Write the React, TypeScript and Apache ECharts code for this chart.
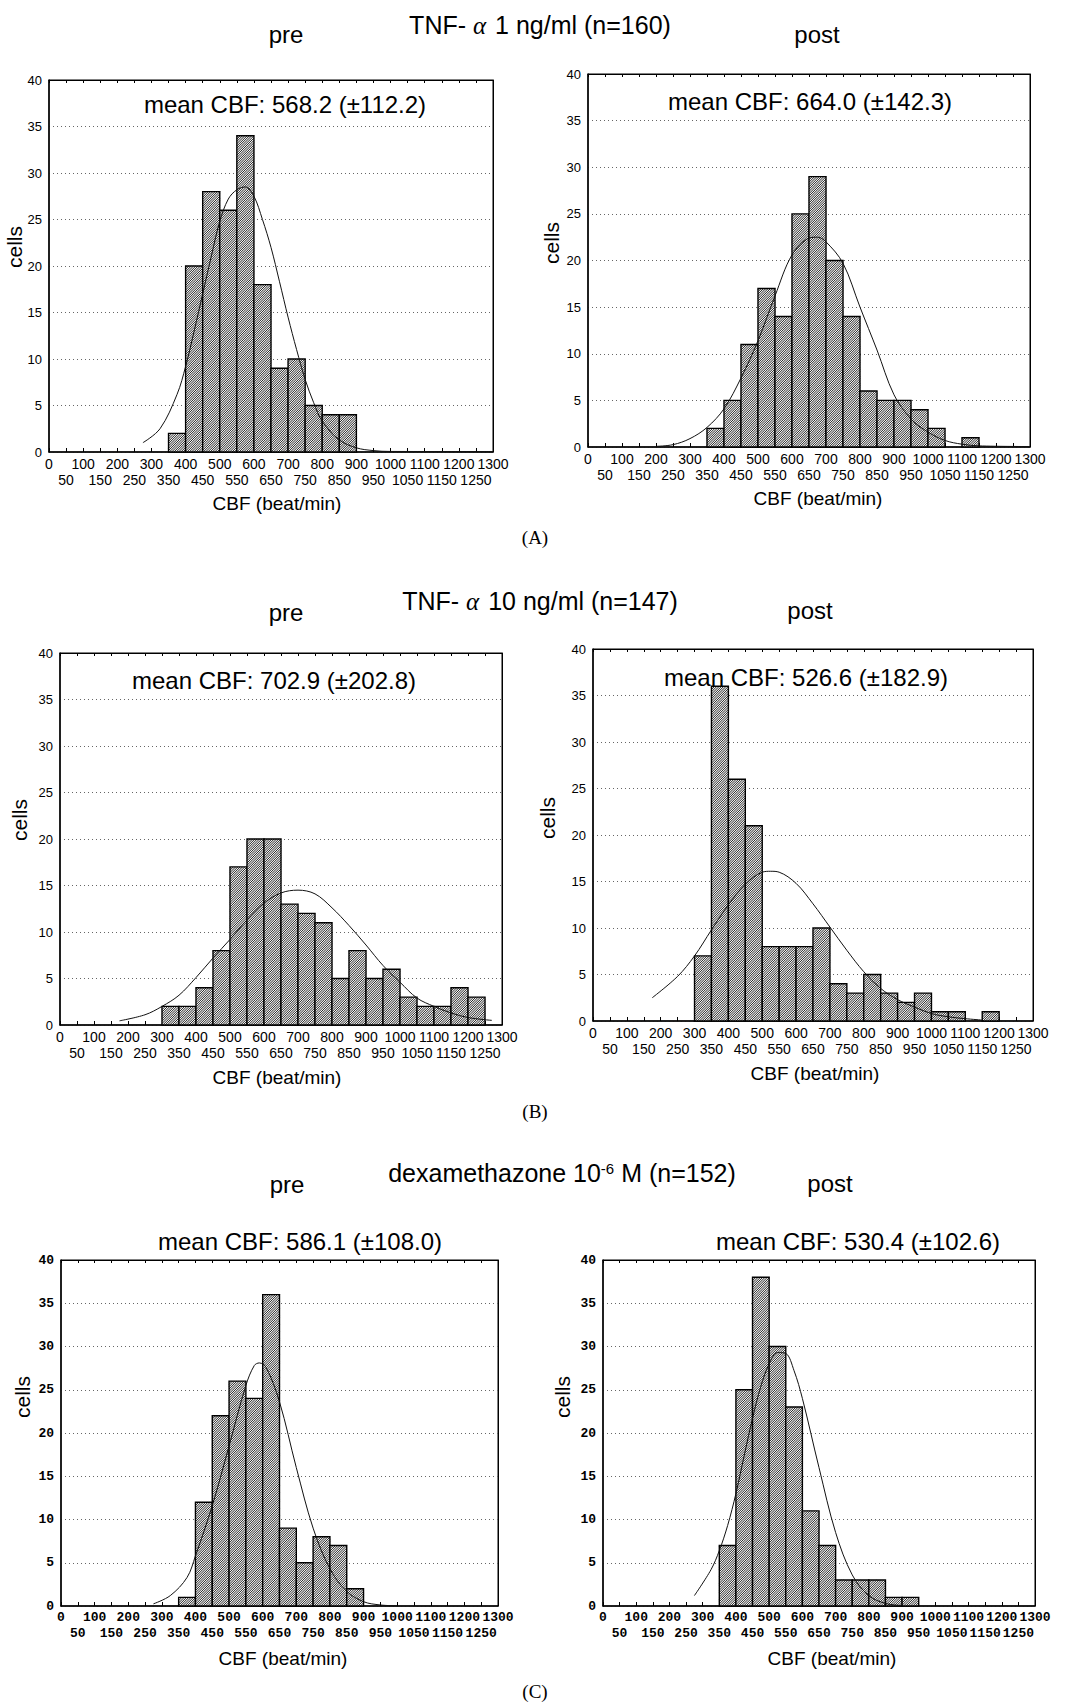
import React, { useEffect, useRef } from 'react';
import * as echarts from 'echarts';

// ---------------- data ----------------
const BIN_WIDTH = 50;
const X_MIN = 0;
const X_MAX = 1300;
const X_INTERVAL = 50;
const Y_MIN = 0;
const Y_MAX = 40;
const Y_INTERVAL = 5;

// (A) TNF-alpha 1 ng/ml, pre
const aPreBins = [350, 400, 450, 500, 550, 600, 650, 700, 750, 800, 850];
const aPreCounts = [2, 20, 28, 26, 34, 18, 9, 10, 5, 4, 4];
const aPreCurve = [[275, 1.0], [325, 2.5], [375, 6.2], [400, 9.2], [425, 13], [450, 17], [475, 21], [500, 24.8], [525, 27.2], [550, 28.2], [575, 28.5], [600, 27.5], [625, 25], [650, 22], [675, 18.3], [700, 14.5], [725, 11], [750, 7.8], [775, 5.3], [800, 3.3], [850, 1.3], [900, 0.45], [950, 0.15], [1000, 0.06], [1300, 0.05]];
const aPreMean = 'mean CBF: 568.2 (±112.2)';

// (A) post
const aPostBins = [350, 400, 450, 500, 550, 600, 650, 700, 750, 800, 850, 900, 950, 1000, 1050, 1100];
const aPostCounts = [2, 5, 11, 17, 14, 25, 29, 20, 14, 6, 5, 5, 4, 2, 0, 1];
const aPostCurve = [[200, 0.07], [250, 0.25], [300, 0.9], [350, 2.1], [400, 4.1], [450, 7.4], [500, 11.4], [550, 16.2], [600, 20.6], [650, 22.4], [675, 22.5], [700, 22], [750, 19.7], [800, 15], [850, 10.4], [900, 5.6], [950, 3], [1000, 1.6], [1050, 0.7], [1100, 0.3], [1150, 0.12], [1300, 0.05]];
const aPostMean = 'mean CBF: 664.0 (±142.3)';

// (B) TNF-alpha 10 ng/ml, pre
const bPreBins = [300, 350, 400, 450, 500, 550, 600, 650, 700, 750, 800, 850, 900, 950, 1000, 1050, 1100, 1150, 1200];
const bPreCounts = [2, 2, 4, 8, 17, 20, 20, 13, 12, 11, 5, 8, 5, 6, 3, 2, 2, 4, 3];
const bPreCurve = [[175, 0.45], [250, 1.1], [300, 2], [350, 3.2], [400, 5.1], [450, 7.2], [500, 9.2], [550, 11.3], [600, 13.1], [650, 14.2], [700, 14.5], [750, 14.1], [800, 12.6], [850, 10.7], [900, 8.6], [950, 6.4], [1000, 4.6], [1050, 2.9], [1100, 2], [1150, 1.3], [1200, 0.8], [1270, 0.5]];
const bPreMean = 'mean CBF: 702.9 (±202.8)';

// (B) post
const bPostBins = [300, 350, 400, 450, 500, 550, 600, 650, 700, 750, 800, 850, 900, 950, 1000, 1050, 1100, 1150];
const bPostCounts = [7, 36, 26, 21, 8, 8, 8, 10, 4, 3, 5, 3, 2, 3, 1, 1, 0, 1];
const bPostCurve = [[175, 2.5], [250, 4.8], [300, 7], [350, 9.8], [400, 12.5], [450, 14.7], [500, 16], [525, 16.1], [550, 16], [600, 14.8], [650, 12.6], [700, 10.1], [750, 7.6], [800, 5.3], [850, 3.5], [900, 2.3], [950, 1.5], [1000, 0.8], [1050, 0.45], [1100, 0.25], [1150, 0.1]];
const bPostMean = 'mean CBF: 526.6 (±182.9)';

// (C) dexamethazone, pre
const cPreBins = [350, 400, 450, 500, 550, 600, 650, 700, 750, 800, 850];
const cPreCounts = [1, 12, 22, 26, 24, 36, 9, 5, 8, 7, 2];
const cPreCurve = [[275, 0.25], [325, 1.2], [375, 3.3], [400, 5.8], [450, 11.6], [500, 18.5], [550, 25.5], [575, 27.8], [590, 28.1], [610, 27.6], [650, 23.6], [700, 16], [750, 9], [800, 4.3], [850, 1.7], [900, 0.5], [950, 0.12], [1000, 0.02]];
const cPreMean = 'mean CBF: 586.1 (±108.0)';

// (C) post
const cPostBins = [350, 400, 450, 500, 550, 600, 650, 700, 750, 800, 850, 900];
const cPostCounts = [7, 25, 38, 30, 23, 11, 7, 3, 3, 3, 1, 1];
const cPostCurve = [[275, 1.2], [325, 4.2], [350, 6.4], [375, 9.3], [400, 13], [425, 17.4], [450, 21.7], [475, 25.4], [500, 28], [525, 29.3], [550, 29.2], [575, 27.2], [600, 24], [650, 16], [700, 8.5], [750, 3.6], [800, 1.2], [850, 0.3], [900, 0.05]];
const cPostMean = 'mean CBF: 530.4 (±102.6)';

const groupTitles = ['TNF-{it|α} 1 ng/ml (n=160)', 'TNF-{it|α} 10 ng/ml (n=147)', 'dexamethazone 10{sup|-6} M (n=152)'];
const groupLetters = ['(A)', '(B)', '(C)'];
const xAxisTitle = 'CBF (beat/min)';
const yAxisTitle = 'cells';

// ---------------- layout ----------------
const SANS = '"Liberation Sans", Arial, Helvetica, sans-serif';
const SERIF = '"Liberation Serif", "Times New Roman", serif';
const MONO = '"Liberation Mono", "DejaVu Sans Mono", monospace';

const panels = [
  { bins: aPreBins, counts: aPreCounts, curve: aPreCurve, mean: aPreMean, head: 'pre',
    left: 49, top: 80, width: 444, height: 372, meanPos: [285, 104], headPos: [286, 34], xTitlePos: [277, 503], cellsPos: [14, 247], bold: false },
  { bins: aPostBins, counts: aPostCounts, curve: aPostCurve, mean: aPostMean, head: 'post',
    left: 588, top: 74, width: 442, height: 373, meanPos: [810, 101], headPos: [817, 34], xTitlePos: [818, 498], cellsPos: [551, 243], bold: false },
  { bins: bPreBins, counts: bPreCounts, curve: bPreCurve, mean: bPreMean, head: 'pre',
    left: 60, top: 653, width: 442, height: 372, meanPos: [274, 680], headPos: [286, 612], xTitlePos: [277, 1077], cellsPos: [19, 820], bold: false },
  { bins: bPostBins, counts: bPostCounts, curve: bPostCurve, mean: bPostMean, head: 'post',
    left: 593, top: 649, width: 440, height: 372, meanPos: [806, 677], headPos: [810, 610], xTitlePos: [815, 1073], cellsPos: [547, 818], bold: false },
  { bins: cPreBins, counts: cPreCounts, curve: cPreCurve, mean: cPreMean, head: 'pre',
    left: 61, top: 1260, width: 437, height: 346, meanPos: [300, 1241], headPos: [287, 1184], xTitlePos: [283, 1658], cellsPos: [22, 1397], bold: true },
  { bins: cPostBins, counts: cPostCounts, curve: cPostCurve, mean: cPostMean, head: 'post',
    left: 603, top: 1260, width: 432, height: 346, meanPos: [858, 1241], headPos: [830, 1183], xTitlePos: [832, 1658], cellsPos: [562, 1397], bold: true },
];

const groupTitlePos = [[540, 25], [540, 601], [562, 1173]];
const groupLetterPos = [[535, 537], [535, 1111], [535, 1691]];

function renderBar(params: any, api: any) {
  const x0 = api.value(0);
  const x1 = api.value(1);
  const c = api.value(2);
  if (!c) return null;
  const p0 = api.coord([x0, c]);
  const p1 = api.coord([x1, 0]);
  const left = p0[0];
  const top = p0[1];
  const w = p1[0] - p0[0];
  const h = p1[1] - p0[1];
  const step = 2.3;
  let d = '';
  for (let k = -h + 1; k < w; k += step) {
    const bmin = Math.max(0, -k);
    const bmax = Math.min(h, w - k);
    if (bmax - bmin < 0.3) continue;
    d += `M${(left + bmin + k).toFixed(2)} ${(top + h - bmin).toFixed(2)}L${(left + bmax + k).toFixed(2)} ${(top + h - bmax).toFixed(2)}`;
  }
  const children: any[] = [
    { type: 'rect', shape: { x: left, y: top, width: w, height: h }, style: { fill: '#f4f4f4' } },
  ];
  if (d) children.push({ type: 'path', shape: { pathData: d }, style: { fill: 'none', stroke: '#111', lineWidth: 0.9 } });
  children.push({ type: 'rect', shape: { x: left, y: top, width: w, height: h }, style: { fill: 'none', stroke: '#000', lineWidth: 1.4 } });
  return { type: 'group', children };
}

function textEl(text: string, x: number, y: number, size: number, family = SANS, extra: any = {}) {
  return {
    type: 'text', x, y, z: 100, ...extra,
    style: {
      text, fontSize: size, fontFamily: family, fill: '#000',
      align: 'center', verticalAlign: 'middle', textAlign: 'center', textVerticalAlign: 'middle',
      ...(extra.style || {}),
    },
  };
}

export default function App() {
  const ref = useRef<HTMLDivElement>(null);
  useEffect(() => {
    if (!ref.current) return;
    const chart = echarts.init(ref.current, null, { renderer: 'svg' });

    const graphics: any[] = [];
    panels.forEach((p) => {
      graphics.push(textEl(p.head, p.headPos[0], p.headPos[1], 24));
      graphics.push(textEl(p.mean, p.meanPos[0], p.meanPos[1], 24));
      graphics.push(textEl(xAxisTitle, p.xTitlePos[0], p.xTitlePos[1], 19));
      graphics.push(textEl(yAxisTitle, p.cellsPos[0], p.cellsPos[1], 21, SANS, { rotation: Math.PI / 2 }));
    });
    groupTitles.forEach((t, i) => {
      const el: any = textEl(t, groupTitlePos[i][0], groupTitlePos[i][1], 25);
      el.style.rich = {
        sup: { fontSize: 15, fontFamily: SANS, verticalAlign: 'top', padding: [0, 0, 10, 0] },
        it: { fontSize: 25, fontFamily: SERIF, fontStyle: 'italic', padding: [0, 2, 0, 7] },
      };
      graphics.push(el);
    });
    groupLetters.forEach((t, i) => {
      graphics.push(textEl(t, groupLetterPos[i][0], groupLetterPos[i][1], 19, SERIF));
    });

    const labelFont = (p: any, size: number) => ({
      fontSize: p.bold ? 13 : size,
      fontFamily: p.bold ? MONO : SANS,
      fontWeight: p.bold ? 'bold' : 'normal',
      color: '#000',
    });

    const option: any = {
      animation: false,
      backgroundColor: '#ffffff',
      grid: panels.map((p) => ({
        left: p.left, top: p.top, width: p.width, height: p.height,
        show: true, borderColor: '#000', borderWidth: 1, backgroundColor: 'transparent',
      })),
      xAxis: panels.flatMap((p, i) => [
        // bottom axis, first label row (multiples of 100)
        {
          type: 'value', gridIndex: i, min: X_MIN, max: X_MAX, interval: X_INTERVAL, position: 'bottom',
          axisLine: { show: true, onZero: false, lineStyle: { color: '#000', width: 1.5 } },
          axisTick: { show: true, inside: true, length: 4, lineStyle: { color: '#000' } },
          axisLabel: {
            formatter: (v: number) => (v % 100 === 0 ? String(v) : ''),
            ...labelFont(p, 14), margin: 5, showMaxLabel: true, showMinLabel: true,
          },
          splitLine: { show: false },
        },
        // bottom axis, second label row (odd multiples of 50)
        {
          type: 'value', gridIndex: i, min: X_MIN, max: X_MAX, interval: X_INTERVAL, position: 'bottom',
          axisLine: { show: false, onZero: false },
          axisTick: { show: false },
          axisLabel: {
            formatter: (v: number) => (v % 100 === 0 ? '' : String(v)),
            ...labelFont(p, 14), margin: 21, showMaxLabel: true, showMinLabel: true,
          },
          splitLine: { show: false },
        },
        // top frame with ticks
        {
          type: 'value', gridIndex: i, min: X_MIN, max: X_MAX, interval: X_INTERVAL, position: 'top',
          axisLine: { show: true, onZero: false, lineStyle: { color: '#000', width: 1 } },
          axisTick: { show: true, inside: true, length: 3, lineStyle: { color: '#000' } },
          axisLabel: { show: false },
          splitLine: { show: false },
        },
      ]),
      yAxis: panels.flatMap((p, i) => [
        {
          type: 'value', gridIndex: i, min: Y_MIN, max: Y_MAX, interval: Y_INTERVAL, position: 'left',
          axisLine: { show: true, onZero: false, lineStyle: { color: '#000', width: 1.5 } },
          axisTick: { show: false },
          axisLabel: { ...labelFont(p, 13), margin: 7, showMaxLabel: true, showMinLabel: true },
          splitLine: { show: true, lineStyle: { color: '#666', type: [1, 3], width: 1 } },
        },
        {
          type: 'value', gridIndex: i, min: Y_MIN, max: Y_MAX, interval: Y_INTERVAL, position: 'right',
          axisLine: { show: true, onZero: false, lineStyle: { color: '#000', width: 1 } },
          axisTick: { show: false }, axisLabel: { show: false }, splitLine: { show: false },
        },
      ]),
      series: panels.flatMap((p, i) => [
        {
          type: 'custom', xAxisIndex: 3 * i, yAxisIndex: 2 * i,
          data: p.bins.map((b, j) => [b, b + BIN_WIDTH, p.counts[j]]),
          encode: { x: [0, 1], y: 2 },
          renderItem: renderBar, z: 2,
        },
        {
          type: 'line', xAxisIndex: 3 * i, yAxisIndex: 2 * i,
          data: p.curve, smooth: 0.35, showSymbol: false, symbol: 'none',
          lineStyle: { color: '#111', width: 1 }, z: 5,
        },
      ]),
      graphic: graphics,
    };
    chart.setOption(option);
    return () => chart.dispose();
  }, []);
  return (
    <div
      ref={ref}
      style={{ position: 'absolute', left: 0, top: 0, width: 1071, height: 1703, background: '#fff' }}
    />
  );
}
